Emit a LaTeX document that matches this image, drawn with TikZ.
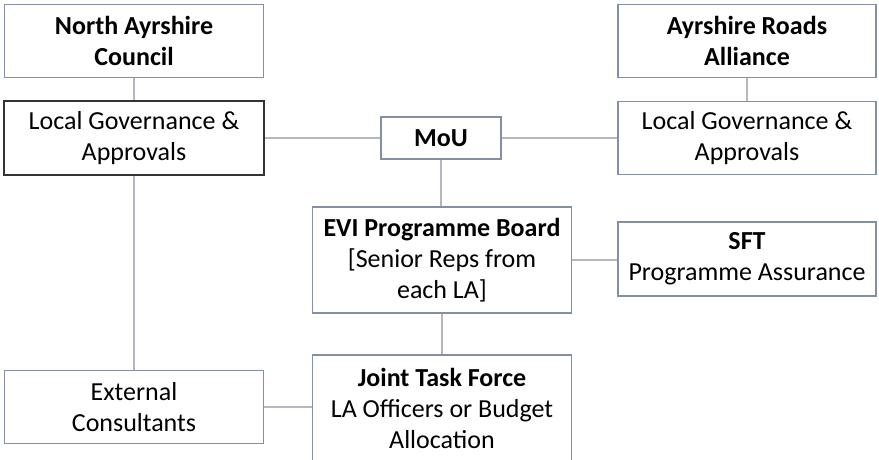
\documentclass[tikz,border=0pt]{standalone}
\usepackage{fontspec}
\setmainfont{Carlito}
\definecolor{boxline}{HTML}{8290A2}
\definecolor{linkline}{HTML}{B4B8C0}
\definecolor{darkline}{HTML}{333333}
\begin{document}
\begin{tikzpicture}[x=1pt,y=-1pt,
  box/.style={draw=boxline, line width=1.6pt, fill=white, align=center,
    inner sep=0pt, font=\fontsize{26}{31}\selectfont},
  darkbox/.style={box, draw=darkline},
  link/.style={draw=linkline, line width=1.6pt}]
  \fill[white] (0,0) rectangle (879,459);
  \useasboundingbox (0,0) rectangle (879,459);

  % left column
  \node[box, minimum width=259pt, minimum height=73pt] (nac) at (134,41)
    {\textbf{North Ayrshire}\\\textbf{Council}};
  \node[darkbox, minimum width=260pt, minimum height=74pt] (lgl) at (134,138)
    {Local Governance \&\\Approvals};
  \node[box, minimum width=259pt, minimum height=73pt] (ext) at (134,407)
    {External\\Consultants};

  % centre column
  \node[box, minimum width=120pt, minimum height=42pt] (mou) at (441,138)
    {\textbf{MoU}};
  \node[box, minimum width=259pt, minimum height=106pt] (evi) at (442,260)
    {\textbf{EVI Programme Board}\\{[}Senior Reps from\\each LA{]}};
  \node[box, minimum width=259pt, minimum height=106pt] (jtf) at (442,408)
    {\textbf{Joint Task Force}\\LA Officers or Budget\\Allocation};

  % right column
  \node[box, minimum width=258pt, minimum height=73pt] (ara) at (747,41)
    {\textbf{Ayrshire Roads}\\\textbf{Alliance}};
  \node[box, minimum width=258pt, minimum height=73pt] (lgr) at (747,138)
    {Local Governance \&\\Approvals};
  \node[box, minimum width=258pt, minimum height=74pt] (sft) at (747,259)
    {\textbf{SFT}\\Programme Assurance};

  % connectors
  \draw[link] (nac.south) -- (lgl.north);
  \draw[link] (lgl.east) -- (mou.west);
  \draw[link] (mou.east) -- (lgr.west);
  \draw[link] (ara.south) -- (lgr.north);
  \draw[link] (mou.south) -- (mou.south |- evi.north);
  \draw[link] (evi.east) -- (evi.east -| sft.west);
  \draw[link] (evi.south) -- (jtf.north);
  \draw[link] (lgl.south) -- (ext.north);
  \draw[link] (ext.east) -- (ext.east -| jtf.west);
\end{tikzpicture}
\end{document}
